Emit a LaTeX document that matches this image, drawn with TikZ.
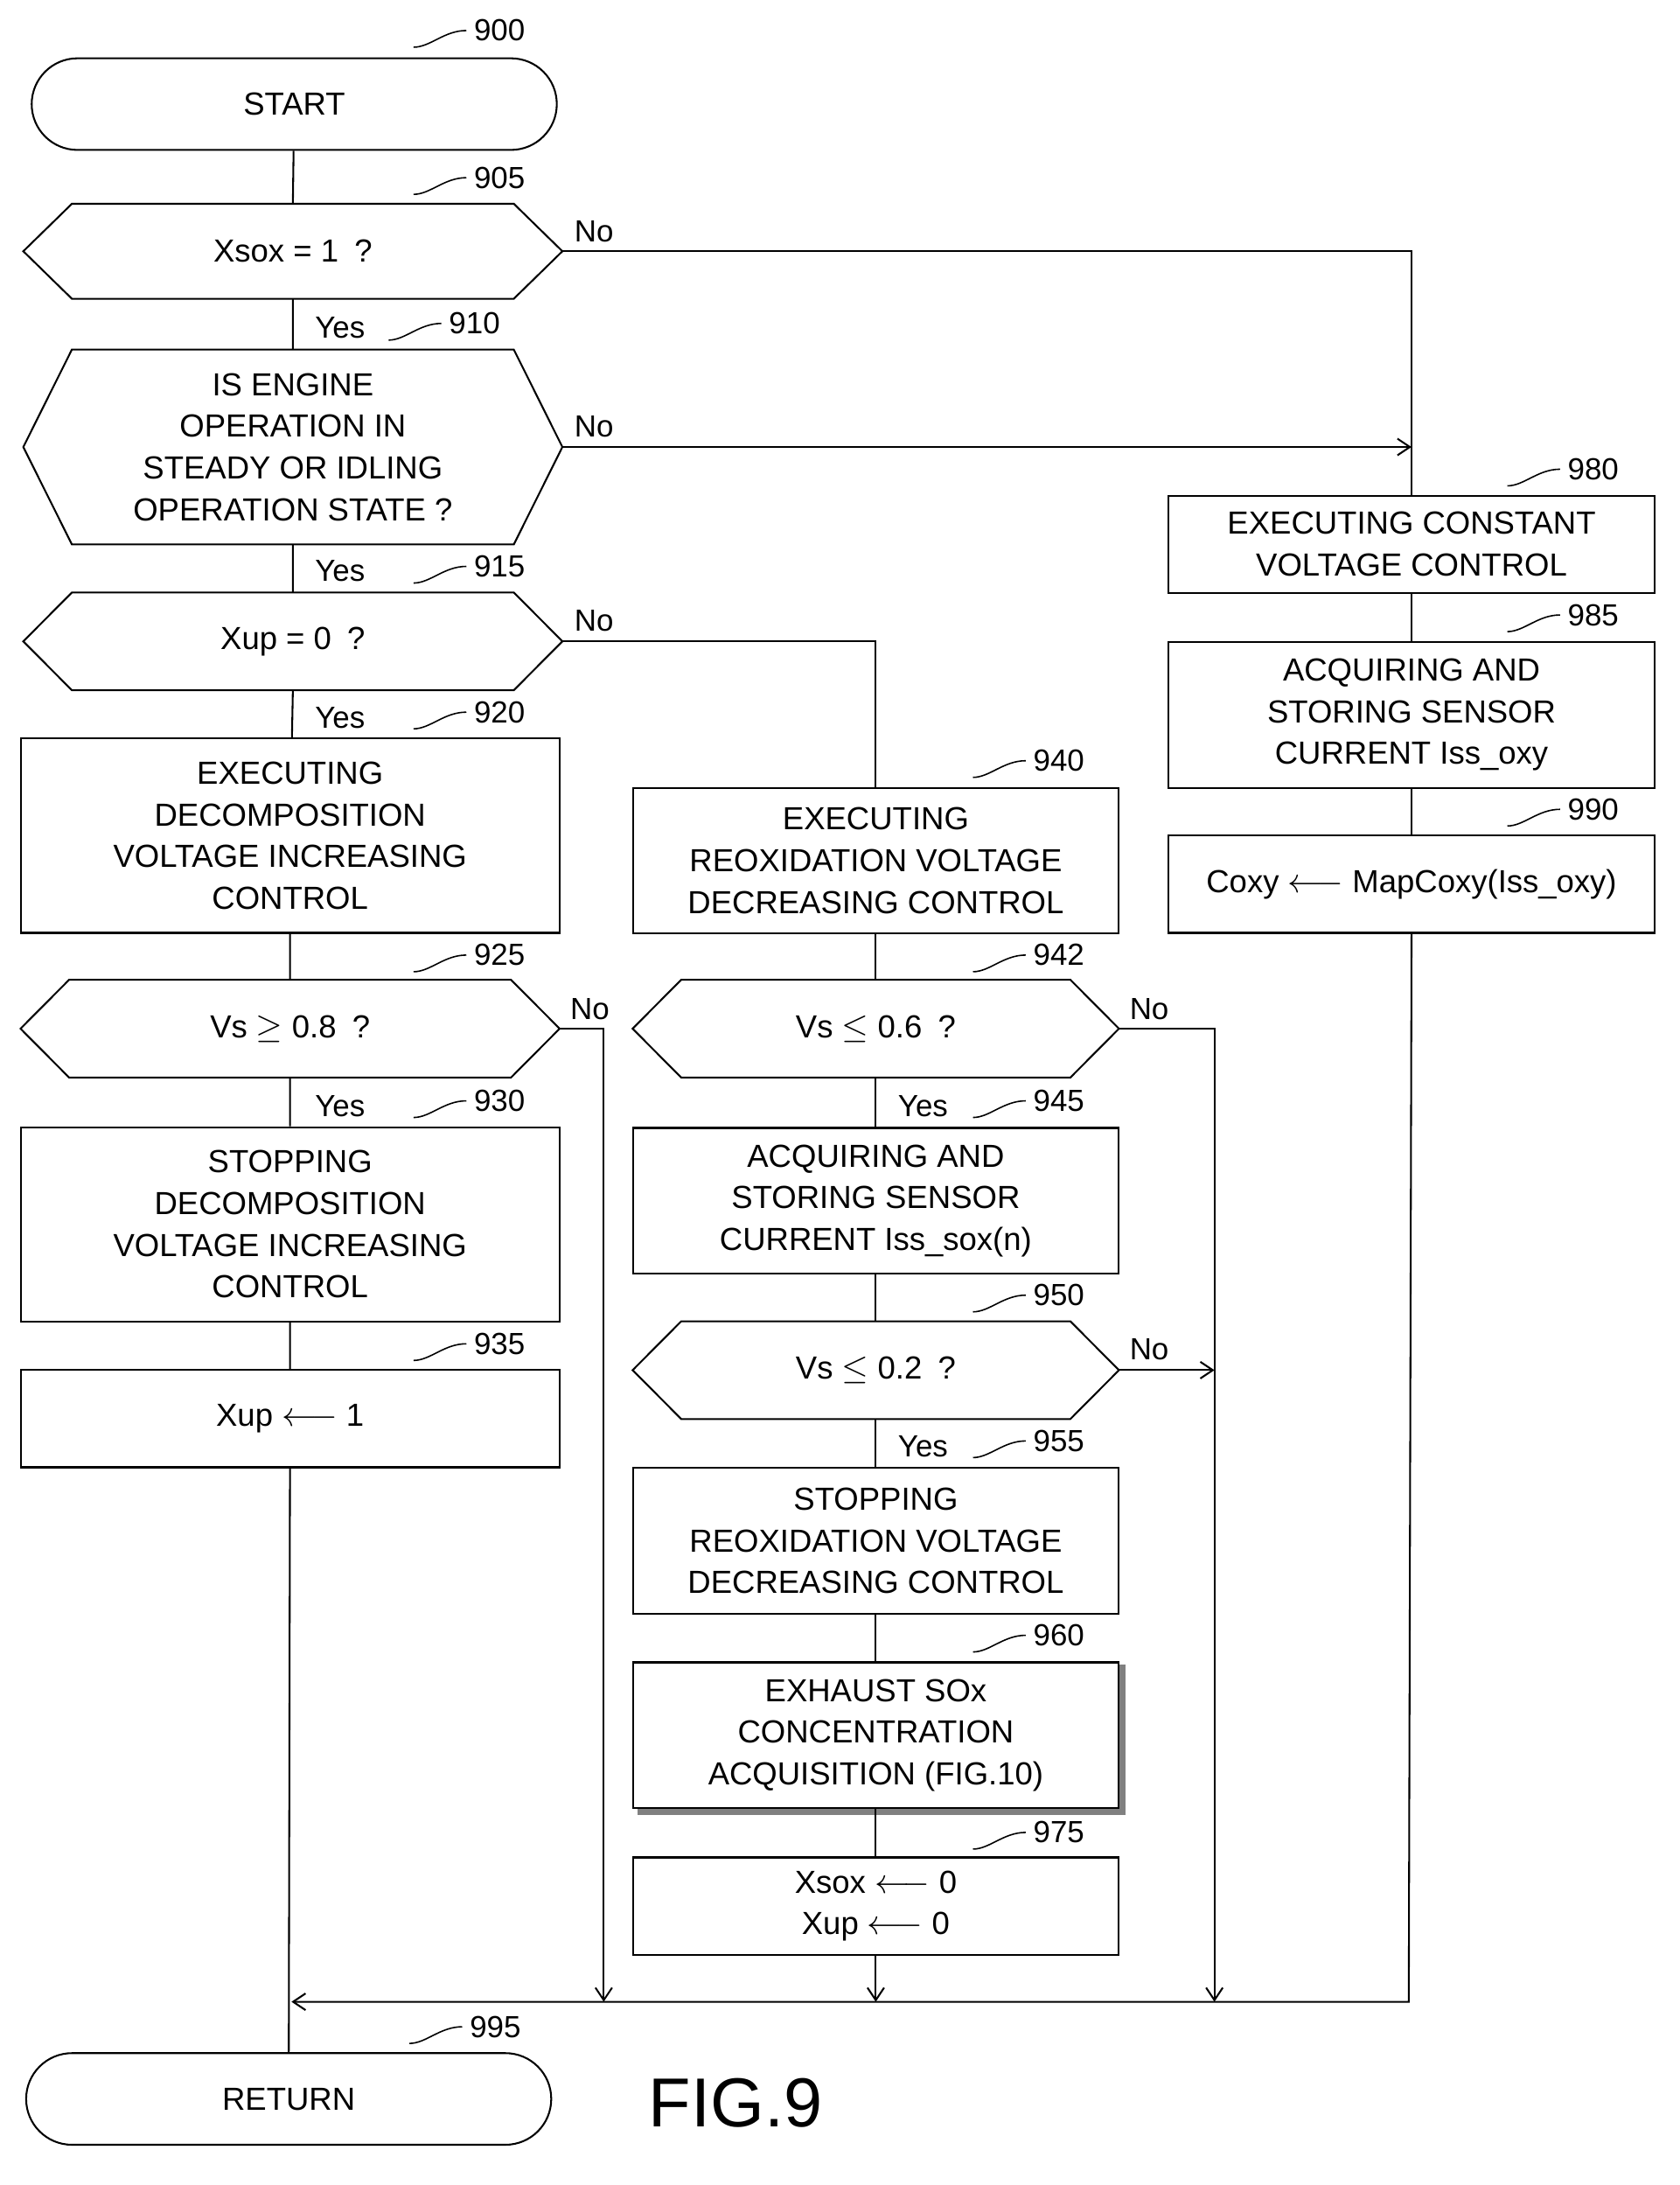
\documentclass[tikz,border=0pt]{standalone}
\usepackage{fontspec}
\setmainfont{Liberation Sans}
\usetikzlibrary{shapes.misc,arrows.meta}
\begin{document}
\begin{tikzpicture}[x=1pt,y=-1pt,
  every node/.style={font=\fontsize{23}{30}\selectfont},
  box/.style={draw,line width=1.3pt,align=center,inner sep=0pt,minimum width=350pt},
  wbox/.style={box,minimum width=388pt},
  dec/.style={align=center,inner sep=0pt,minimum width=388pt},
  term/.style={draw,line width=1.3pt,rounded rectangle,minimum width=385pt,minimum height=66pt},
  ln/.style={line width=1.3pt},
  arr/.style={ln,-{Straight Barb[length=9pt,width=12pt]}},
  lbl/.style={font=\fontsize{22}{26}\selectfont}]
\useasboundingbox (0,0) rectangle (1210,1574);
\newcommand{\hexa}[1]{\draw[ln] (#1.west) -- ([xshift=35pt]#1.north west) -- ([xshift=-35pt]#1.north east) -- (#1.east) -- ([xshift=-35pt]#1.south east) -- ([xshift=35pt]#1.south west) -- cycle;}
\newcommand{\numl}[3]{\node[lbl,anchor=west] at (#1-22,#2) {#3};\draw[line width=1pt] (#1-62,#2+12) .. controls (#1-50,#2+12) and (#1-40,#2) .. (#1-24,#2);}
% column 1
\node[term] (s) at (212,75) {START};
\node[dec,minimum height=68pt] (d905) at (211,181) {Xsox = 1\enspace ?}; \hexa{d905}
\node[dec,minimum height=140pt] (d910) at (211,322) {IS ENGINE\\OPERATION IN\\STEADY OR IDLING\\OPERATION STATE ?}; \hexa{d910}
\node[dec,minimum height=70pt] (d915) at (211,462) {Xup = 0\enspace ?}; \hexa{d915}
\node[wbox,minimum height=140pt] (b920) at (209,602) {EXECUTING\\DECOMPOSITION\\VOLTAGE INCREASING\\CONTROL};
\node[dec,minimum height=70pt] (d925) at (209,741) {Vs $\geq$ 0.8\enspace ?}; \hexa{d925}
\node[wbox,minimum height=140pt] (b930) at (209,882) {STOPPING\\DECOMPOSITION\\VOLTAGE INCREASING\\CONTROL};
\node[wbox,minimum height=70pt] (b935) at (209,1022) {Xup $\longleftarrow$ 1};
\node[term] (r) at (208,1512) {RETURN};
% column 2
\node[box,minimum height=105pt] (b940) at (631,620) {EXECUTING\\REOXIDATION VOLTAGE\\DECREASING CONTROL};
\node[dec,minimum width=350pt,minimum height=70pt] (d942) at (631,741) {Vs $\leq$ 0.6\enspace ?}; \hexa{d942}
\node[box,minimum height=105pt] (b945) at (631,865) {ACQUIRING AND\\STORING SENSOR\\CURRENT Iss\_sox(n)};
\node[dec,minimum width=350pt,minimum height=70pt] (d950) at (631,987) {Vs $\leq$ 0.2\enspace ?}; \hexa{d950}
\node[box,minimum height=105pt] (b955) at (631,1110) {STOPPING\\REOXIDATION VOLTAGE\\DECREASING CONTROL};
\node[box,minimum height=105pt] (b960) at (631,1250) {EXHAUST SOx\\CONCENTRATION\\ACQUISITION (FIG.10)};
\draw[line width=4pt,gray] ([xshift=2pt,yshift=-2pt]b960.north east) -- ([xshift=2pt,yshift=-2pt]b960.south east) -- ([xshift=4pt,yshift=-2pt]b960.south west);
\node[box,minimum height=70pt] (b975) at (631,1373) {Xsox $\longleftarrow$ 0\\Xup $\longleftarrow$ 0};
% column 3
\node[box,minimum height=70pt] (b980) at (1017,392) {EXECUTING CONSTANT\\VOLTAGE CONTROL};
\node[box,minimum height=105pt] (b985) at (1017,515) {ACQUIRING AND\\STORING SENSOR\\CURRENT Iss\_oxy};
\node[box,minimum height=70pt] (b990) at (1017,637) {Coxy $\longleftarrow$ MapCoxy(Iss\_oxy)};
% coordinates
\coordinate (j) at (210,1442);
\coordinate (j1) at (1015,1442);
\coordinate (c905) at (1017,181);
\coordinate (c910) at (1017,322);
\coordinate (c915) at (631,462);
\coordinate (c925) at (435,741); \coordinate (e925) at (435,1442);
\coordinate (c942) at (875,741); \coordinate (e942) at (875,1442);
\coordinate (c950) at (875,987);
\coordinate (e975) at (631,1442);
% connectors
\draw[ln] (s) -- (d905.north) (d905.south) -- (d910.north) (d910.south) -- (d915.north) (d915.south) -- (b920) (b920) -- (d925.north) (d925.south) -- (b930) (b930) -- (b935) (b935) -- (r);
\draw[ln] (d905.east) -- (c905) -- (b980.north);
\draw[arr] (d910.east) -- (c910);
\draw[ln] (d915.east) -- (c915) -- (b940.north);
\draw[arr] (d925.east) -- (c925) -- (e925);
\draw[ln] (b940) -- (d942.north) (d942.south) -- (b945) (b945) -- (d950.north) (d950.south) -- (b955) (b955) -- (b960) (b960) -- (b975);
\draw[arr] (d942.east) -- (c942) -- (e942);
\draw[arr] (d950.east) -- (c950);
\draw[arr] (b975) -- (e975);
\draw[ln] (b980) -- (b985) (b985) -- (b990);
\draw[arr] (b990.south) -- (j1) -- (j);
% Yes/No
\foreach \x/\y in {245/236,245/411,245/517,245/797,665/797,665/1042} \node[lbl] at (\x,\y) {Yes};
\foreach \x/\y in {428/167,428/307,428/447,425/727,828/727,828/972} \node[lbl] at (\x,\y) {No};
% numbers
\numl{360}{22}{900}\numl{360}{128}{905}\numl{342}{233}{910}\numl{360}{408}{915}
\numl{360}{513}{920}\numl{360}{688}{925}\numl{360}{793}{930}\numl{360}{968}{935}
\numl{357}{1460}{995}\numl{763}{548}{940}\numl{763}{688}{942}\numl{763}{793}{945}
\numl{763}{933}{950}\numl{763}{1038}{955}\numl{763}{1178}{960}\numl{763}{1320}{975}
\numl{1148}{338}{980}\numl{1148}{443}{985}\numl{1148}{583}{990}
\node[font=\fontsize{50}{50}\selectfont] (fig) at (530,1515) {FIG.9};
\end{tikzpicture}
\end{document}
